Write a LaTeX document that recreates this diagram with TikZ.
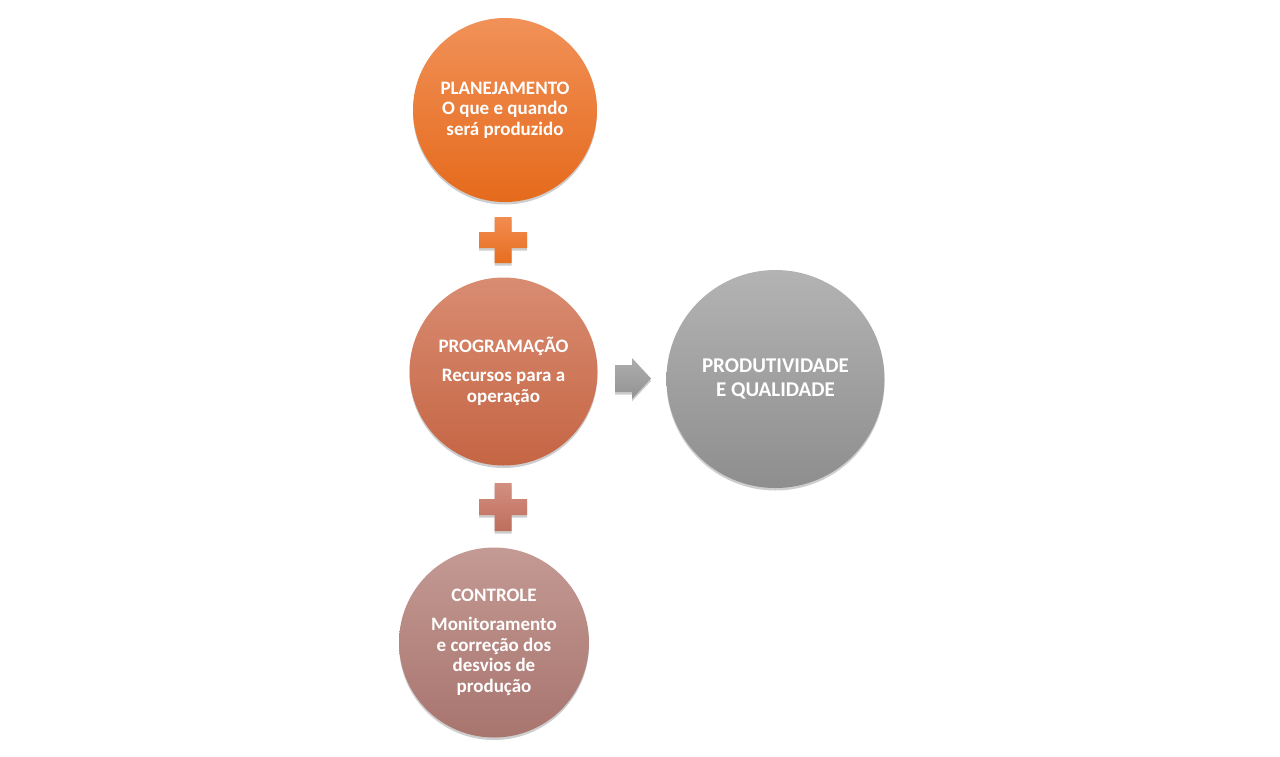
\documentclass[tikz,border=0pt]{standalone}
\usepackage{fontspec}
\setmainfont{Carlito}
\usetikzlibrary{shadows}
\definecolor{orT}{HTML}{F19158}
\definecolor{orB}{HTML}{E56A1C}
\definecolor{rdT}{HTML}{D98C72}
\definecolor{rdB}{HTML}{C56544}
\definecolor{pkT}{HTML}{C49A94}
\definecolor{pkB}{HTML}{A8746E}
\definecolor{gyT}{HTML}{B3B3B3}
\definecolor{gyB}{HTML}{8E8E8E}
\definecolor{p1T}{HTML}{F28C50}
\definecolor{p1B}{HTML}{E66E20}
\definecolor{p2T}{HTML}{D28F80}
\definecolor{p2B}{HTML}{BF6E5C}
\definecolor{arT}{HTML}{ADADAD}
\definecolor{arB}{HTML}{939393}
\begin{document}
\begin{tikzpicture}[x=1pt,y=-1pt,
  softshadow/.style={drop shadow={opacity=0.28,shadow xshift=0pt,shadow yshift=-2.5pt,fill=black!70}},
  circ/.style={circle, inner sep=0pt, text=white, align=center,
    font=\bfseries\fontsize{19}{20.7}\selectfont, softshadow},
  plusshape/.style={softshadow},
]
\fill[white] (0,0) rectangle (1280,756);
\useasboundingbox (0,0) rectangle (1280,756);

\node[circ, minimum size=184pt, top color=orT, bottom color=orB] (plan) at (505,110)
  {PLANEJAMENTO\\O que e quando\\será produzido};
\node[circ, minimum size=188pt, top color=rdT, bottom color=rdB] (prog) at (503.5,371.5)
  {PROGRAMAÇÃO\\[8pt]Recursos para a\\operação};
\node[circ, minimum size=190pt, top color=pkT, bottom color=pkB] (ctrl) at (494,642.5)
  {CONTROLE\\[8pt]Monitoramento\\e correção dos\\desvios de\\produção};
\node[circ, minimum size=218pt, top color=gyT, bottom color=gyB,
  font=\bfseries\fontsize{21}{24}\selectfont] (prod) at (775.5,379)
  {PRODUTIVIDADE\\E QUALIDADE};

\coordinate (p1) at (503,240);
\coordinate (p2) at (503,507);
\coordinate (ar) at (633,378.5);

\path[plusshape, top color=p1T, bottom color=p1B, shift={(p1)}]
  (-8.5,-23) -- (8.5,-23) -- (8.5,-8) -- (24,-8) -- (24,8) -- (8.5,8) -- (8.5,23)
  -- (-8.5,23) -- (-8.5,8) -- (-24,8) -- (-24,-8) -- (-8.5,-8) -- cycle;
\path[plusshape, top color=p2T, bottom color=p2B, shift={(p2)}]
  (-8.5,-24) -- (8.5,-24) -- (8.5,-8) -- (24,-8) -- (24,8) -- (8.5,8) -- (8.5,24)
  -- (-8.5,24) -- (-8.5,8) -- (-24,8) -- (-24,-8) -- (-8.5,-8) -- cycle;
\path[plusshape, top color=arT, bottom color=arB, shift={(ar)}]
  (-18,-13.5) -- (-1,-13.5) -- (-1,-20.5) -- (18,0) -- (-1,20.5) -- (-1,13.5)
  -- (-18,13.5) -- cycle;
\end{tikzpicture}
\end{document}
